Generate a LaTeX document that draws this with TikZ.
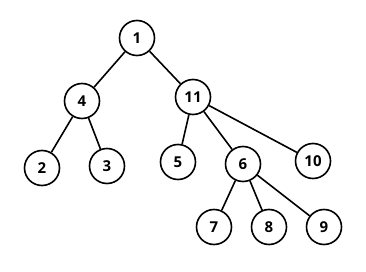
\documentclass[tikz,border=0pt]{standalone}
\usepackage{fontspec}
\setmainfont{Open Sans}
\begin{document}
\begin{tikzpicture}[x=1pt,y=-1pt,
  vert/.style={circle,draw,line width=1.6pt,minimum size=35pt,inner sep=0pt,font=\fontsize{15}{15}\selectfont\bfseries},
  edge/.style={line width=1.6pt}]
\useasboundingbox (0,0) rectangle (366,272);
\node[vert] (n1) at (137,38) {1};
\node[vert] (n4) at (82,101) {4};
\node[vert] (n11) at (193,97) {11};
\node[vert] (n2) at (42,168) {2};
\node[vert] (n3) at (107,166) {3};
\node[vert] (n5) at (178,162) {5};
\node[vert] (n6) at (243,164) {6};
\node[vert] (n10) at (313,161) {10};
\node[vert] (n7) at (214,227) {7};
\node[vert] (n8) at (269,227) {8};
\node[vert] (n9) at (324,227) {9};
\draw[edge] (n1) -- (n4);
\draw[edge] (n1) -- (n11);
\draw[edge] (n4) -- (n2);
\draw[edge] (n4) -- (n3);
\draw[edge] (n11) -- (n5);
\draw[edge] (n11) -- (n6);
\draw[edge] (n11) -- (n10);
\draw[edge] (n6) -- (n7);
\draw[edge] (n6) -- (n8);
\draw[edge] (n6) -- (n9);
\end{tikzpicture}
\end{document}
